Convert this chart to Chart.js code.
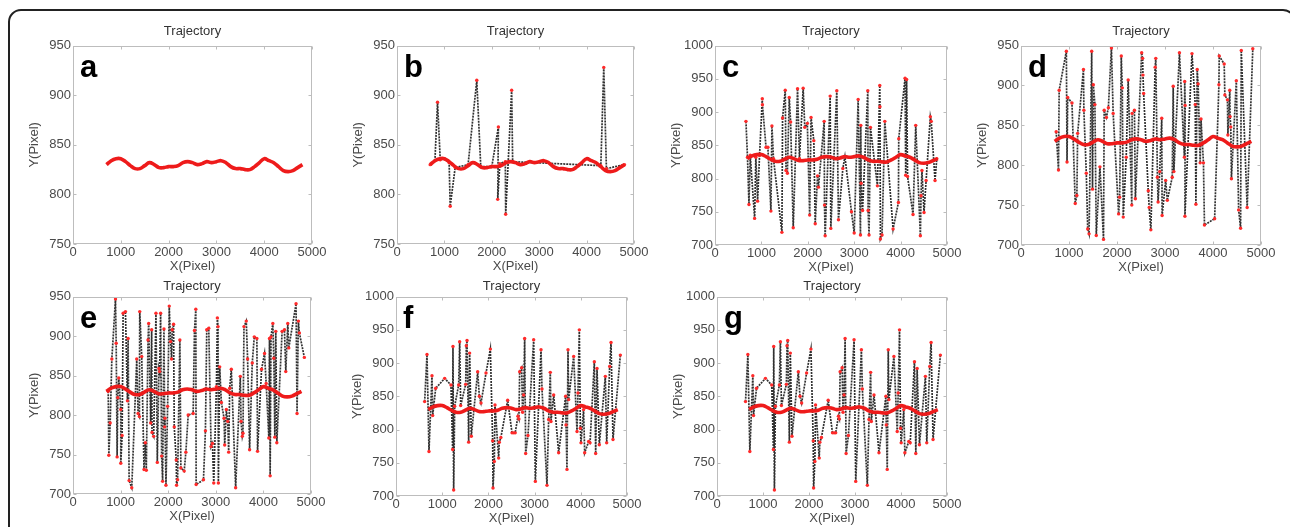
<!DOCTYPE html>
<html>
<head>
<meta charset="utf-8">
<script src="https://cdn.jsdelivr.net/npm/chart.js@4.4.0/dist/chart.umd.min.js"></script>
<style>
    body { margin: 0; background: #fff; width: 1290px; height: 527px; overflow: hidden; position: relative; font-family: "Liberation Sans", Arial, sans-serif; }
    .frame { position: absolute; left: 8px; top: 9px; width: 1288px; height: 580px; border: 2px solid #222; border-radius: 13px; box-sizing: border-box; }
    .panel { position: absolute; }
    .letter { position: absolute; font: bold 31px "Liberation Sans", Arial, sans-serif; color: #000; line-height: 1; }
</style>
</head>
<body>
<div class="frame"></div>
<div id="root"></div>

<script>
// smoothed trajectory (red), same in every panel
const trajX = [700, 800, 900, 1000, 1100, 1200, 1300, 1400, 1500, 1600, 1700, 1800, 1900, 2000, 2100, 2200, 2300, 2400, 2500, 2600, 2700, 2800, 2900, 3000, 3100, 3200, 3300, 3400, 3500, 3600, 3700, 3800, 3900, 4000, 4100, 4200, 4300, 4400, 4500, 4600, 4700, 4800];
const trajY = [830, 834, 836, 836, 833, 829, 826, 826, 829, 832, 830, 827, 827, 828, 828, 829, 832, 833, 832, 830, 831, 833, 832, 833, 834, 832, 828, 826, 826, 825, 825, 828, 832, 836, 834, 832, 828, 824, 823, 824, 827, 830];

const xTicks = [0, 1000, 2000, 3000, 4000, 5000];

// measured points (black dotted), [x, y]
const noiseB = [[700,830],[800,834],[855,893],[912,835],[1000,836],[1100,832],[1122,788],[1227,827],[1500,830],[1683,915],[1767,828],[2000,828],[2139,868],[2125,795],[2170,831],[2285,833],[2293,780],[2419,905],[2440,833],[4300,829],[4362,928],[4418,826],[4800,830]];

const noiseC = [[667,886],[700,832],[732,761],[760,835],[854,740],[880,832],[918,766],[960,835],[1019,920],[1022,911],[1100,847],[1140,847],[1205,751],[1227,879],[1260,830],[1442,719],[1456,891],[1514,933],[1530,812],[1560,808],[1600,922],[1630,885],[1686,726],[1779,935],[1820,830],[1900,936],[1935,877],[1990,883],[2040,745],[2070,892],[2130,857],[2160,732],[2210,804],[2230,787],[2353,886],[2360,760],[2374,714],[2482,924],[2496,725],[2625,932],[2661,738],[2755,815],[2800,833],[2941,750],[3000,718],[3085,919],[3135,715],[3142,880],[3150,793],[3180,752],[3293,932],[3300,752],[3320,715],[3350,877],[3500,789],[3551,940],[3555,908],[3565,709],[3600,715],[3660,886],[3838,724],[3953,764],[3960,860],[4096,951],[4110,805],[4130,949],[4150,803],[4268,746],[4326,880],[4426,714],[4440,774],[4460,812],[4505,749],[4550,797],[4641,893],[4660,886],[4742,797],[4780,830]];

const noiseD = [[733,842],[781,794],[795,894],[945,943],[959,804],[973,885],[1062,878],[1130,752],[1164,762],[1180,840],[1301,920],[1310,869],[1360,790],[1390,720],[1418,714],[1473,943],[1490,770],[1507,901],[1540,876],[1568,712],[1644,798],[1719,707],[1733,869],[1780,860],[1820,872],[1884,947],[1920,865],[2034,739],[2055,760],[2089,937],[2110,897],[2130,735],[2192,810],[2233,907],[2308,750],[2315,865],[2363,869],[2383,758],[2514,941],[2534,934],[2541,913],[2555,890],[2651,768],[2671,747],[2705,719],[2795,923],[2808,934],[2842,785],[2856,754],[2890,792],[2932,859],[2940,737],[3014,781],[3048,756],[3151,785],[3171,899],[3185,792],[3301,941],[3404,810],[3411,905],[3420,875],[3415,736],[3562,940],[3630,876],[3644,751],[3671,920],[3690,902],[3733,803],[3750,858],[3801,803],[3822,725],[4034,733],[4123,901],[4130,937],[4233,927],[4247,888],[4301,882],[4310,838],[4349,894],[4356,861],[4370,848],[4384,783],[4486,906],[4534,744],[4575,721],[4589,944],[4712,747],[4829,946]];

const noiseE = [[740,830],[753,749],[781,790],[816,871],[893,947],[907,891],[927,747],[941,822],[962,847],[1004,807],[1004,739],[1032,774],[1053,929],[1102,931],[1144,818],[1158,897],[1179,717],[1234,708],[1339,871],[1367,802],[1395,798],[1402,931],[1444,874],[1492,731],[1520,765],[1540,730],[1576,895],[1590,916],[1632,790],[1653,908],[1660,778],[1695,773],[1743,929],[1771,740],[1806,859],[1820,855],[1841,929],[1862,748],[1883,716],[1911,909],[1925,785],[1932,796],[1953,711],[1988,811],[2022,938],[2050,893],[2071,871],[2085,908],[2113,915],[2127,785],[2169,743],[2176,711],[2197,718],[2245,895],[2266,733],[2336,729],[2371,753],[2420,800],[2524,802],[2552,907],[2580,934],[2587,712],[2741,718],[2782,780],[2810,908],[2852,910],[2901,760],[2929,764],[2957,714],[3013,836],[3033,923],[3047,912],[3054,714],[3082,861],[3117,816],[3173,796],[3187,762],[3222,807],[3250,792],[3271,753],[3292,834],[3326,858],[3417,708],[3515,849],[3530,792],[3557,773],[3571,777],[3592,912],[3640,919],[3668,871],[3710,756],[3766,866],[3808,899],[3863,897],[3877,754],[3961,858],[4024,878],[4058,840],[4114,771],[4128,897],[4142,723],[4160,899],[4198,916],[4219,872],[4240,772],[4260,906],[4282,765],[4393,906],[4442,908],[4470,855],[4512,916],[4533,885],[4686,941],[4707,802],[4735,919],[4756,904],[4860,873]];

// f and g show the same measurements
const noiseF = [[620,842],[671,913],[714,767],[779,881],[794,821],[859,862],[1053,877],[1190,867],[1226,770],[1233,925],[1248,709],[1270,835],[1356,867],[1378,932],[1400,836],[1508,868],[1522,926],[1537,934],[1573,781],[1594,915],[1630,790],[1768,887],[1804,850],[1840,840],[1948,885],[2042,921],[2092,783],[2100,712],[2128,752],[2143,837],[2222,757],[2236,781],[2270,788],[2417,844],[2511,795],[2547,795],[2580,795],[2640,820],[2660,816],[2677,887],[2720,893],[2740,826],[2763,852],[2785,937],[2807,764],[2857,791],[2980,935],[3016,722],[3139,920],[3160,861],[3268,716],[3304,815],[3340,886],[3355,812],[3413,852],[3521,765],[3672,850],[3680,807],[3701,740],[3723,920],[3737,845],[3846,910],[3918,797],[3939,855],[3968,950],[3990,802],[4004,780],[4060,830],[4084,765],[4170,782],[4200,780],[4293,902],[4322,764],[4351,892],[4401,777],[4531,880],[4560,780],[4625,895],[4654,931],[4697,785],[4856,912]];

// tp = gap between title and plot box
const panels = [
    { letter: "a", L: 73, T: 46, R: 312, B: 244, yMin: 750, yMax: 950, noise: null, tp: 6 },
    { letter: "b", L: 397, T: 46, R: 634, B: 244, yMin: 750, yMax: 950, noise: noiseB, tp: 6 },
    { letter: "c", L: 715, T: 46, R: 947, B: 245, yMin: 700, yMax: 1000, noise: noiseC, tp: 6 },
    { letter: "d", L: 1021, T: 46, R: 1261, B: 245, yMin: 700, yMax: 950, noise: noiseD, tp: 6 },
    { letter: "e", L: 73, T: 297, R: 311, B: 494, yMin: 700, yMax: 950, noise: noiseE, tp: 2 },
    { letter: "f", L: 396, T: 297, R: 627, B: 496, yMin: 700, yMax: 1000, noise: noiseF, tp: 2 },
    { letter: "g", L: 717, T: 297, R: 947, B: 496, yMin: 700, yMax: 1000, noise: noiseF, tp: 2 }
];

const textGray = "#4a4a4a";
const Y_W = 50, TOP_H = 40, X_H = 32, RIGHT_PAD = 16;

// matlab-ish box with inward ticks
const boxPlugin = {
    id: "boxPlugin",
    afterDraw(chart) {
        const { ctx, chartArea: a, scales } = chart;
        ctx.save();
        ctx.strokeStyle = "#bdbdbd";
        ctx.lineWidth = 1;
        const l = Math.round(a.left) + 0.5, t = Math.round(a.top) + 0.5;
        const r = Math.round(a.right) - 0.5, b = Math.round(a.bottom) - 0.5;
        ctx.strokeRect(l, t, r - l, b - t);
        ctx.beginPath();
        scales.x.ticks.forEach(tk => {
            const px = Math.round(scales.x.getPixelForValue(tk.value)) + 0.5;
            ctx.moveTo(px, b); ctx.lineTo(px, b - 3);
            ctx.moveTo(px, t); ctx.lineTo(px, t + 3);
        });
        scales.y.ticks.forEach(tk => {
            const py = Math.round(scales.y.getPixelForValue(tk.value)) + 0.5;
            ctx.moveTo(l, py); ctx.lineTo(l + 3, py);
            ctx.moveTo(r, py); ctx.lineTo(r - 3, py);
        });
        ctx.stroke();
        ctx.restore();
    }
};

const root = document.getElementById("root");

panels.forEach(p => {
    const w = (p.R - p.L) + Y_W + RIGHT_PAD;
    const h = (p.B - p.T) + TOP_H + X_H;

    const holder = document.createElement("div");
    holder.className = "panel";
    holder.style.left = (p.L - Y_W) + "px";
    holder.style.top = (p.T - TOP_H) + "px";
    holder.style.width = w + "px";
    holder.style.height = h + "px";
    const canvas = document.createElement("canvas");
    canvas.width = w;
    canvas.height = h;
    holder.appendChild(canvas);
    root.appendChild(holder);

    const letter = document.createElement("div");
    letter.className = "letter";
    letter.textContent = p.letter;
    letter.style.left = (p.L + 7) + "px";
    letter.style.top = (p.T + 5) + "px";
    root.appendChild(letter);

    const datasets = [{
        data: trajX.map((x, i) => ({ x: x, y: trajY[i] })),
        showLine: true,
        borderColor: "#ee1b1b",
        borderWidth: 3.6,
        tension: 0.4,
        pointRadius: 0
    }];
    if (p.noise) {
        datasets.push({
            data: p.noise.map(pt => ({ x: pt[0], y: pt[1] })),
            showLine: true,
            borderColor: "rgba(20,20,20,0.88)",
            borderWidth: 1.7,
            borderDash: [2, 1],
            tension: 0,
            pointRadius: 1.7,
            pointBackgroundColor: "#ff2a2a",
            pointBorderWidth: 0
        });
    }

    new Chart(canvas.getContext("2d"), {
        type: "scatter",
        data: { datasets: datasets },
        options: {
            responsive: false,
            animation: false,
            layout: { padding: { left: 0, right: RIGHT_PAD, top: 0, bottom: 0 } },
            plugins: {
                legend: { display: false },
                tooltip: { enabled: false },
                title: {
                    display: true,
                    text: "Trajectory",
                    fullSize: false,
                    color: "#333",
                    font: { family: "Liberation Sans", size: 13, weight: "normal" },
                    padding: { top: 24 - p.tp, bottom: p.tp }
                }
            },
            scales: {
                x: {
                    type: "linear",
                    min: 0,
                    max: 5000,
                    afterBuildTicks: s => { s.ticks = xTicks.map(v => ({ value: v })); },
                    afterFit: s => { s.height = X_H; },
                    grid: { display: false, drawTicks: false },
                    border: { display: false },
                    ticks: { color: textGray, font: { family: "Liberation Sans", size: 13 }, padding: 1, maxRotation: 0, autoSkip: false, callback: v => String(v) },
                    title: { display: true, text: "X(Pixel)", color: textGray, font: { family: "Liberation Sans", size: 13 }, padding: { top: 0, bottom: 2 } }
                },
                y: {
                    type: "linear",
                    min: p.yMin,
                    max: p.yMax,
                    afterFit: s => { s.width = Y_W; },
                    grid: { display: false, drawTicks: false },
                    border: { display: false },
                    ticks: { stepSize: 50, color: textGray, font: { family: "Liberation Sans", size: 13 }, padding: 2, callback: v => String(v) },
                    title: { display: true, text: "Y(Pixel)", color: textGray, font: { family: "Liberation Sans", size: 13 }, padding: { top: 4, bottom: 0 } }
                }
            }
        },
        plugins: [boxPlugin]
    });
});
</script>
</body>
</html>
